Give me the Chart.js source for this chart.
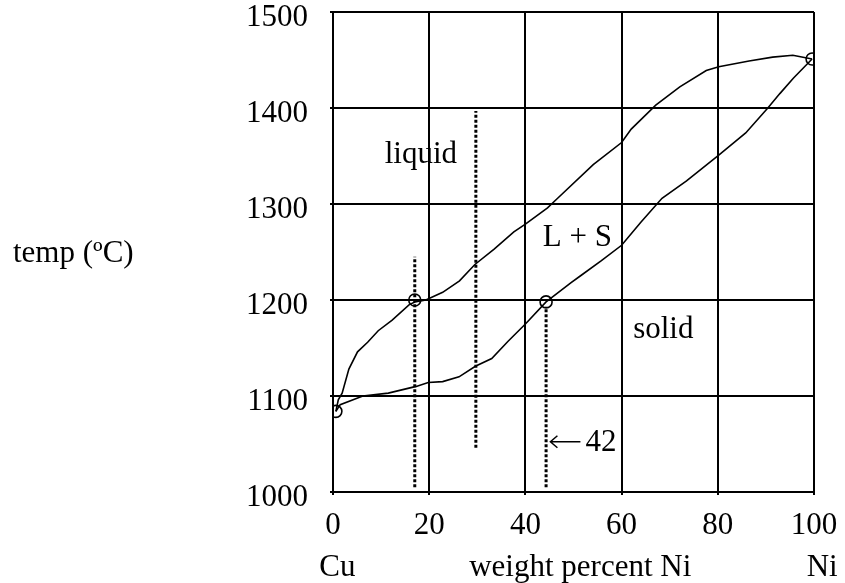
<!DOCTYPE html>
<html lang="en">
<head>
  <meta charset="UTF-8" />
  <title>Cu-Ni phase diagram</title>
  <script src="https://cdn.jsdelivr.net/npm/chart.js"></script>
  <style>
    * {
      margin: 0;
      padding: 0;
      box-sizing: border-box;
    }

    body {
      background: #fff;
    }

    canvas {
      display: block;
    }
  </style>
</head>
<body>
  <canvas id="phaseChart" width="845" height="583"></canvas>

  <script>
    // Liquidus (upper curve): weight percent Ni vs temp
    const liquidusX = [0.6, 1.1, 1.9, 3.3, 5.1, 7.2, 9.4, 12.3, 15.8, 17.0, 19.3, 22.8, 26.3, 29.5, 33.5, 37.6, 40, 44.6, 46.7, 54.1, 60, 62, 67.1, 72.1, 77.6, 80.2, 86.5, 91.4, 95.6, 99.6];
    const liquidusT = [1084, 1096, 1103, 1128, 1146, 1156, 1168, 1179, 1195, 1198, 1200, 1208, 1220, 1237, 1253, 1271, 1279, 1296, 1306, 1341, 1364, 1378, 1403, 1422, 1439, 1443, 1449, 1453, 1455, 1451];

    // Solidus (lower curve)
    const solidusX = [0.6, 1.5, 6.2, 11.5, 17.3, 19.8, 22.8, 26.2, 29.6, 33.0, 36.4, 40, 44.3, 49.5, 51.4, 55.8, 60, 64, 68.4, 73.5, 80.2, 85.8, 90.4, 92.9, 95.7, 99.6];
    const solidusT = [1084, 1091, 1100, 1103, 1110, 1114, 1115, 1120, 1131, 1139, 1157, 1175, 1198, 1218, 1225, 1241, 1257, 1281, 1306, 1324, 1351, 1374, 1400, 1415, 1431, 1451];

    // Circled points
    const markerX = [0.6, 17.0, 44.3, 99.6];
    const markerT = [1084, 1200, 1198, 1451];

    // Dotted vertical guide lines
    const dottedX = [17.0, 29.7, 44.3];
    const dottedTop = [1245, 1397, 1193];
    const dottedBottom = [1005, 1046, 1005];

    // Axis ticks
    const xTicks = [0, 20, 40, 60, 80, 100];
    const yTicks = [1000, 1100, 1200, 1300, 1400, 1500];

    // Text placed in the diagram (data coords: left edge, baseline)
    const noteText = ['liquid', 'L + S', 'solid', '42'];
    const noteX = [10.75, 43.6, 62.4, 52.5];
    const noteT = [1343, 1256, 1160, 1043];

    // Arrow pointing at the 42 line (data coords: left edge, baseline)
    const arrowX = 45.2;
    const arrowT = 1043;

    // Labels under the x axis (centred on these x values)
    const bottomText = ['Cu', 'weight percent Ni', 'Ni'];
    const bottomX = [0.9, 51.4, 101.7];

    const FONT = '"Liberation Serif", "Times New Roman", serif';

    function pairs(xs, ys) {
      return xs.map((x, i) => ({ x: x, y: ys[i] }));
    }

    const dottedSets = dottedX.map((x, i) => ({
      data: [{ x: x, y: dottedBottom[i] }, { x: x, y: dottedTop[i] }],
      showLine: true,
      borderColor: '#000',
      borderWidth: 3,
      borderDash: [3, 2],
      pointRadius: 0
    }));

    const textPlugin = {
      id: 'phaseText',
      afterDraw(chart) {
        const ctx = chart.ctx;
        const xs = chart.scales.x;
        const ys = chart.scales.y;
        const area = chart.chartArea;
        ctx.save();
        ctx.fillStyle = '#000';
        ctx.font = '31px ' + FONT;
        ctx.textBaseline = 'alphabetic';

        ctx.textAlign = 'left';
        noteText.forEach((t, i) => {
          ctx.fillText(t, xs.getPixelForValue(noteX[i]), ys.getPixelForValue(noteT[i]));
        });

        // y axis title, upright
        ctx.fillText('temp (\u00baC)', 13, 262);

        ctx.textAlign = 'center';
        bottomText.forEach((t, i) => {
          ctx.fillText(t, xs.getPixelForValue(bottomX[i]), area.bottom + 84);
        });

        // arrow drawn as a thin line with an open head
        const ax = xs.getPixelForValue(arrowX);
        const ay = ys.getPixelForValue(arrowT) - 9;
        ctx.strokeStyle = '#000';
        ctx.lineWidth = 1.5;
        ctx.beginPath();
        ctx.moveTo(ax, ay);
        ctx.lineTo(ax + 30, ay);
        ctx.moveTo(ax + 7, ay - 6);
        ctx.lineTo(ax, ay);
        ctx.lineTo(ax + 7, ay + 6);
        ctx.stroke();
        ctx.restore();
      }
    };

    const ctx = document.getElementById('phaseChart').getContext('2d');

    new Chart(ctx, {
      type: 'scatter',
      data: {
        datasets: [
          {
            data: pairs(liquidusX, liquidusT),
            showLine: true,
            borderColor: '#000',
            borderWidth: 1.6,
            pointRadius: 0
          },
          {
            data: pairs(solidusX, solidusT),
            showLine: true,
            borderColor: '#000',
            borderWidth: 1.6,
            pointRadius: 0
          },
          ...dottedSets,
          {
            data: pairs(markerX, markerT),
            showLine: false,
            pointStyle: 'circle',
            pointRadius: 6,
            pointBorderWidth: 1.6,
            pointBorderColor: '#000',
            pointBackgroundColor: 'rgba(0,0,0,0)'
          }
        ]
      },
      options: {
        responsive: false,
        animation: false,
        layout: {
          padding: { top: 12, right: 31, left: 0, bottom: 0 }
        },
        plugins: {
          legend: { display: false },
          tooltip: { enabled: false }
        },
        scales: {
          x: {
            type: 'linear',
            min: 0,
            max: 100,
            afterBuildTicks: (scale) => {
              scale.ticks = xTicks.map(v => ({ value: v }));
            },
            afterFit: (scale) => {
              scale.height = 91;
              scale.paddingLeft = 0;
              scale.paddingRight = 0;
            },
            ticks: {
              color: '#000',
              font: { family: FONT, size: 31 },
              padding: 12,
              maxRotation: 0,
              callback: (v) => String(v)
            },
            grid: {
              color: '#000',
              lineWidth: 2,
              tickLength: 3
            },
            border: { display: true, color: '#000', width: 2 }
          },
          y: {
            min: 1000,
            max: 1500,
            afterBuildTicks: (scale) => {
              scale.ticks = yTicks.map(v => ({ value: v }));
            },
            afterFit: (scale) => {
              scale.width = 333;
              scale.paddingTop = 0;
              scale.paddingBottom = 0;
            },
            ticks: {
              color: '#000',
              font: { family: FONT, size: 31 },
              padding: 22,
              labelOffset: 6,
              callback: (v) => String(v)
            },
            grid: {
              color: '#000',
              lineWidth: 2,
              tickLength: 3
            },
            border: { display: true, color: '#000', width: 2 }
          }
        }
      },
      plugins: [textPlugin]
    });
  </script>
</body>
</html>
